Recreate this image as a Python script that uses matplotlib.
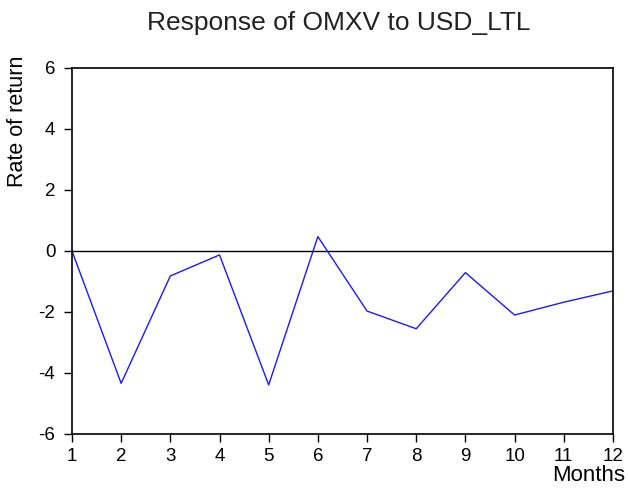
import matplotlib
matplotlib.use("Agg")
import matplotlib.pyplot as plt

plt.rcParams['font.family'] = ['Liberation Sans', 'DejaVu Sans']
plt.rcParams['axes.unicode_minus'] = False

months = [1, 2, 3, 4, 5, 6, 7, 8, 9, 10, 11, 12]
response = [0.0, -4.34, -0.82, -0.13, -4.39, 0.47, -1.97, -2.55, -0.71, -2.10, -1.68, -1.31]
yticks = [-6, -4, -2, 0, 2, 4, 6]

fig = plt.figure(figsize=(6.28, 4.92), dpi=100)
ax = fig.add_axes([0.1146, 0.1179, 0.8614, 0.7441])

ax.axhline(0, color='black', lw=1.0)
ax.plot(months, response, color='#1a1aff', lw=1.0)

ax.set_xlim(1, 12)
ax.set_ylim(-6, 6)
ax.set_xticks(months)
ax.set_yticks(yticks)
ax.tick_params(direction='out', length=6, width=1, labelsize=13.5)
ax.tick_params(axis='y', pad=6)
ax.tick_params(axis='x', pad=4)
for s in ax.spines.values():
    s.set_linewidth(1.2)

fig.text(0.54, 1 - 23 / 492, 'Response of OMXV to USD_LTL', fontsize=19,
         color='#222222', ha='center', va='center')
ax.set_ylabel('Rate of return', fontsize=15.5)
ax.yaxis.set_label_coords(-0.082, 0.855)
ax.set_xlabel('Months', fontsize=16)
ax.xaxis.set_label_coords(1.022, -0.085)
ax.xaxis.label.set_horizontalalignment('right')

fig.savefig('out.png', dpi=100)
